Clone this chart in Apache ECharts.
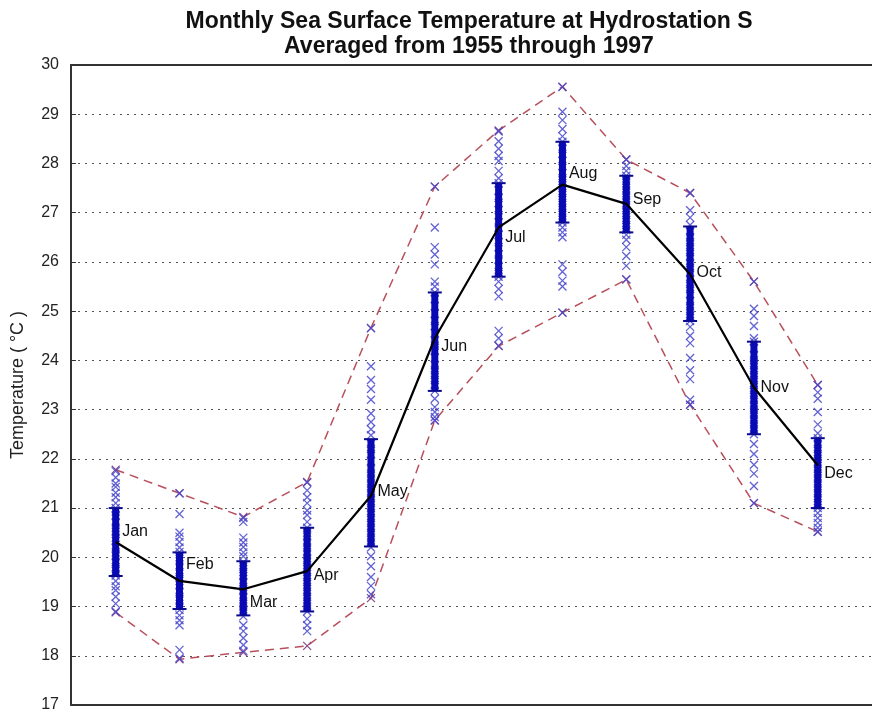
<!DOCTYPE html>
<html>
<head>
<meta charset="utf-8">
<script src="https://cdn.jsdelivr.net/npm/echarts@6/dist/echarts.min.js"></script>
<style>html,body{margin:0;padding:0;background:#fff}#c{width:872px;height:713px}</style>
</head>
<body>
<div id="c"></div>
<script>
var months = ['Jan','Feb','Mar','Apr','May','Jun','Jul','Aug','Sep','Oct','Nov','Dec'];
var meanTemp = [20.31, 19.52, 19.35, 19.72, 21.25, 24.45, 26.7, 27.57, 27.18, 25.75, 23.45, 21.87];
var maxTemp  = [21.78, 21.3, 20.82, 21.53, 24.66, 27.53, 28.67, 29.56, 28.08, 27.4, 25.6, 23.5];
var minTemp  = [18.88, 17.93, 18.07, 18.2, 19.17, 22.78, 24.29, 24.97, 25.64, 23.1, 21.1, 20.52];
var sdLow    = [19.62, 18.95, 18.82, 18.9, 20.22, 23.38, 25.7, 26.8, 26.6, 24.8, 22.5, 21.0];
var sdHigh   = [21.0, 20.1, 19.92, 20.6, 22.4, 25.38, 27.6, 28.44, 27.75, 26.72, 24.38, 22.42];
var obs = [
  [21.75,21.62,21.5,21.43,21.31,21.22,21.1,21.0,20.93,20.84,20.71,20.6,20.52,20.4,20.33,20.2,20.1,20.02,19.9,19.8,19.72,19.63,19.52,19.41,19.33,19.2,19.06,18.9],
  [21.3,20.88,20.5,20.42,20.31,20.2,20.11,20.0,19.92,19.81,19.7,19.6,19.52,19.43,19.3,19.2,19.12,19.0,18.93,18.82,18.72,18.62,18.12,17.95],
  [20.8,20.72,20.4,20.3,20.21,20.1,20.02,19.9,19.81,19.7,19.62,19.5,19.4,19.32,19.2,19.1,19.0,18.9,18.8,18.62,18.5,18.36,18.22,18.1],
  [21.52,21.36,21.22,21.1,20.95,20.86,20.72,20.6,20.5,20.42,20.3,20.2,20.1,19.98,19.9,19.8,19.7,19.6,19.5,19.4,19.3,19.2,19.1,19.0,18.9,18.75,18.62,18.5],
  [24.65,23.88,23.6,23.42,23.2,22.92,22.75,22.6,22.48,22.3,22.2,22.1,21.95,21.8,21.7,21.6,21.5,21.4,21.3,21.2,21.1,21.0,20.9,20.8,20.7,20.6,20.5,20.4,20.3,20.2,20.02,19.82,19.6,19.42,19.25],
  [27.53,26.7,26.3,26.15,25.95,25.6,25.5,25.38,25.25,25.1,24.95,24.8,24.7,24.55,24.4,24.3,24.2,24.05,23.9,23.8,23.7,23.6,23.5,23.38,23.22,23.05,22.95,22.85,22.78],
  [28.65,28.45,28.3,28.15,28.05,27.85,27.7,27.6,27.45,27.3,27.2,27.05,26.95,26.8,26.7,26.55,26.4,26.3,26.15,26.05,25.9,25.8,25.7,25.6,25.45,25.3,24.6,24.45,24.3],
  [29.55,29.05,28.88,28.7,28.55,28.44,28.3,28.2,28.05,27.95,27.8,27.7,27.6,27.5,27.4,27.3,27.2,27.1,27.0,26.9,26.8,26.7,26.6,26.5,25.95,25.8,25.62,25.5,24.97],
  [28.08,27.95,27.85,27.75,27.65,27.55,27.45,27.35,27.25,27.15,27.05,26.95,26.85,26.75,26.65,26.55,26.45,26.3,26.12,25.92,25.65],
  [27.4,27.05,26.9,26.75,26.62,26.5,26.4,26.3,26.2,26.1,25.98,25.88,25.78,25.65,25.55,25.45,25.35,25.2,25.1,25.0,24.9,24.8,24.68,24.5,24.35,24.05,23.8,23.62,23.2,23.1],
  [25.6,25.05,24.9,24.7,24.45,24.38,24.25,24.1,24.0,23.9,23.8,23.7,23.6,23.5,23.4,23.3,23.2,23.1,23.0,22.9,22.8,22.7,22.6,22.5,22.3,22.1,21.88,21.7,21.45,21.1],
  [23.5,23.35,23.22,22.95,22.7,22.52,22.42,22.3,22.2,22.1,22.0,21.9,21.8,21.7,21.6,21.5,21.4,21.3,21.2,21.1,21.0,20.9,20.8,20.7,20.6,20.52]
];

var crossPath = 'path://M0,0L10,10M10,0L0,10';
var scatterData = [];
obs.forEach(function (arr, i) { arr.forEach(function (v) { scatterData.push([i + 1, v]); }); });
var meanData = meanTemp.map(function (v, i) { return [i + 1, v]; });
var maxData = maxTemp.map(function (v, i) { return [i + 1, v]; });
var minData = minTemp.map(function (v, i) { return [i + 1, v]; });
var sdData = sdLow.map(function (v, i) { return [i + 1, v, sdHigh[i]]; });
var labelDy = [-10, -16, 13, 5, -4, 8, 10, -11, -4, -2, 0, 8];

var chart = echarts.init(document.getElementById('c'), null, {renderer: 'canvas'});
chart.setOption({
  animation: false,
  backgroundColor: '#ffffff',
  title: {
    text: 'Monthly Sea Surface Temperature at Hydrostation S\nAveraged from 1955 through 1997',
    left: 464, top: 4, textAlign: 'center',
    textStyle: {fontFamily: 'Liberation Sans, Arial', fontWeight: 'bold', fontSize: 23, lineHeight: 25, color: '#111'}
  },
  grid: {left: 71, right: 0, top: 65, bottom: 7, containLabel: false},
  xAxis: [{
    type: 'value', min: 0.3, max: 12.85, position: 'bottom',
    axisLine: {show: true, onZero: false, lineStyle: {color: '#333', width: 2}},
    axisTick: {show: false}, axisLabel: {show: false}, splitLine: {show: false}
  }, {
    type: 'value', min: 0.3, max: 12.85, position: 'top',
    axisLine: {show: true, onZero: false, lineStyle: {color: '#333', width: 2}},
    axisTick: {show: false}, axisLabel: {show: false}, splitLine: {show: false}
  }],
  yAxis: {
    type: 'value', min: 17, max: 30, interval: 1,
    name: 'Temperature ( \u00b0C )', nameLocation: 'middle', nameGap: 44,
    nameTextStyle: {fontFamily: 'Liberation Sans, Arial', fontSize: 18, color: '#222'},
    axisLine: {show: true, lineStyle: {color: '#333', width: 2}},
    axisTick: {show: true, inside: true, length: 5, lineStyle: {color: '#333'}},
    axisLabel: {fontFamily: 'Liberation Sans, Arial', fontSize: 16, color: '#222', margin: 12},
    splitLine: {show: true, lineStyle: {color: '#555', type: [2, 5], width: 1}}
  },
  series: [
    {
      type: 'line', data: maxData, symbol: crossPath, symbolSize: 8,
      itemStyle: {color: 'none', borderColor: '#8a4a8a', borderWidth: 1.2},
      lineStyle: {color: '#b8505c', width: 1.5, type: [9, 6]}, z: 2
    },
    {
      type: 'line', data: minData, symbol: crossPath, symbolSize: 8,
      itemStyle: {color: 'none', borderColor: '#8a4a8a', borderWidth: 1.2},
      lineStyle: {color: '#b8505c', width: 1.5, type: [9, 6]}, z: 2
    },
    {
      type: 'scatter', data: scatterData, symbol: crossPath, symbolSize: 8,
      itemStyle: {color: 'none', borderColor: '#4646cc', borderWidth: 1.3, opacity: 0.85}, z: 3
    },
    {
      type: 'custom', data: sdData, z: 4,
      renderItem: function (params, api) {
        var x = api.value(0);
        var p1 = api.coord([x, api.value(1)]);
        var p2 = api.coord([x, api.value(2)]);
        var cw = 7;
        return {
          type: 'group',
          children: [
            {type: 'line', shape: {x1: p1[0], y1: p1[1], x2: p2[0], y2: p2[1]}, style: {stroke: '#0a0ab4', lineWidth: 7}},
            {type: 'line', shape: {x1: p1[0] - cw, y1: p1[1], x2: p1[0] + cw, y2: p1[1]}, style: {stroke: '#0a0a90', lineWidth: 2}},
            {type: 'line', shape: {x1: p2[0] - cw, y1: p2[1], x2: p2[0] + cw, y2: p2[1]}, style: {stroke: '#0a0a90', lineWidth: 2}}
          ]
        };
      }
    },
    {
      type: 'line', data: meanData.map(function (d, i) {
        return {value: d, label: {offset: [0, labelDy[i]]}};
      }),
      symbol: 'circle', symbolSize: 1, showSymbol: true, z: 5,
      itemStyle: {color: 'rgba(0,0,0,0)'},
      lineStyle: {color: '#000', width: 2.2},
      label: {
        show: true, position: 'right', distance: 6,
        formatter: function (p) { return months[p.dataIndex]; },
        fontFamily: 'Liberation Sans, Arial', fontSize: 16, color: '#111'
      }
    }
  ]
});
</script>
</body>
</html>
